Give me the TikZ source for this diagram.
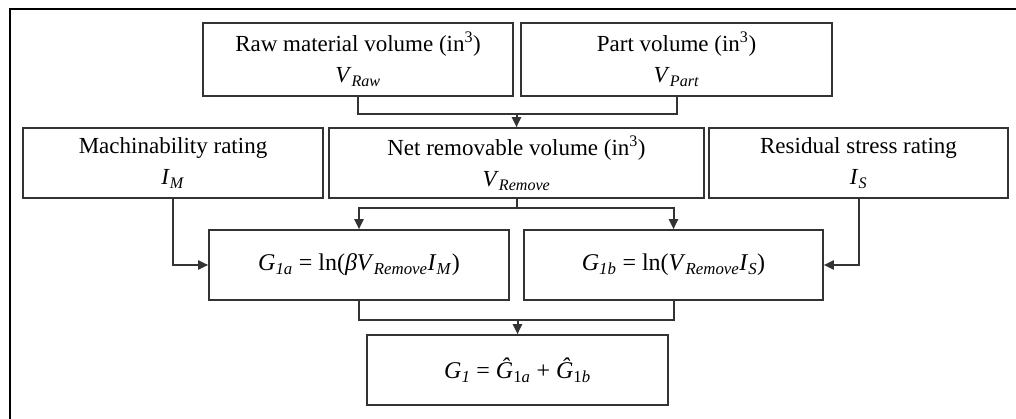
\documentclass[tikz,border=0pt]{standalone}
\usepackage{fontspec}
\setmainfont{Liberation Serif}
\usetikzlibrary{arrows.meta}
\newcommand{\iv}[2]{\textit{#1}\textsubscript{\textit{#2}}}
\begin{document}
\begin{tikzpicture}[x=1pt,y=-1pt,
  box/.style={draw=black!80, line width=1.6pt, inner sep=0pt, align=center,
    font=\fontsize{23}{31}\selectfont},
  fbox/.style={box, font=\fontsize{24}{30}\selectfont},
  wire/.style={draw=black!80, line width=2pt},
  arr/.style={wire, -{Triangle[length=10pt,width=9pt]}}]
\useasboundingbox (0,0) rectangle (1016,419);
\fill[white] (0,0) rectangle (1016,419);
\draw[line width=2.2pt] (10,419) -- (10,9) -- (1016,9);
% row 1
\node[box, minimum width=310pt, minimum height=73pt] (raw) at (358,59.5)
  {Raw material volume (in\textsuperscript{3})\\ \iv{V}{Raw}};
\node[box, minimum width=311pt, minimum height=73pt] (part) at (676.5,59.5)
  {Part volume (in\textsuperscript{3})\\ \iv{V}{Part}};
% row 2
\node[box, minimum width=300pt, minimum height=70pt] (mach) at (173,163)
  {Machinability rating\\ \iv{I}{M}};
\node[box, minimum width=375pt, minimum height=70pt] (net) at (516.5,163)
  {Net removable volume (in\textsuperscript{3})\\ \iv{V}{Remove}};
\node[box, minimum width=299pt, minimum height=70pt] (res) at (858.5,163)
  {Residual stress rating\\ \iv{I}{S}};
% row 3
\node[fbox, minimum width=300pt, minimum height=70pt] (ga) at (359,265)
  {\iv{G}{1a} = ln(\textit{β}\iv{V}{Remove}\iv{I}{M})};
\node[fbox, minimum width=299pt, minimum height=70pt] (gb) at (673.5,265)
  {\iv{G}{1b} = ln(\iv{V}{Remove}\iv{I}{S})};
% row 4
\node[fbox, minimum width=301pt, minimum height=70pt] (g) at (517.5,370)
  {\iv{G}{1} = \textit{\^{G}}\textsubscript{1\textit{a}} + \textit{\^{G}}\textsubscript{1\textit{b}}};
% connectors
\coordinate (j1) at (net.north |- 0,114);
\coordinate (j2) at (net.south |- 0,208);
\coordinate (j3) at (g.north |- 0,320);
\draw[wire] (raw.south) |- (j1) -| (part.south);
\draw[arr] (j1) -- (net.north);
\draw[wire] (net.south) -- (j2);
\draw[arr] (j2) -| (ga.north);
\draw[arr] (j2) -| (gb.north);
\draw[arr] (mach.south) |- (ga.west);
\draw[arr] (res.south) |- (gb.east);
\draw[wire] (ga.south) |- (j3) -| (gb.south);
\draw[arr] (j3) -- (g.north);
\end{tikzpicture}
\end{document}
